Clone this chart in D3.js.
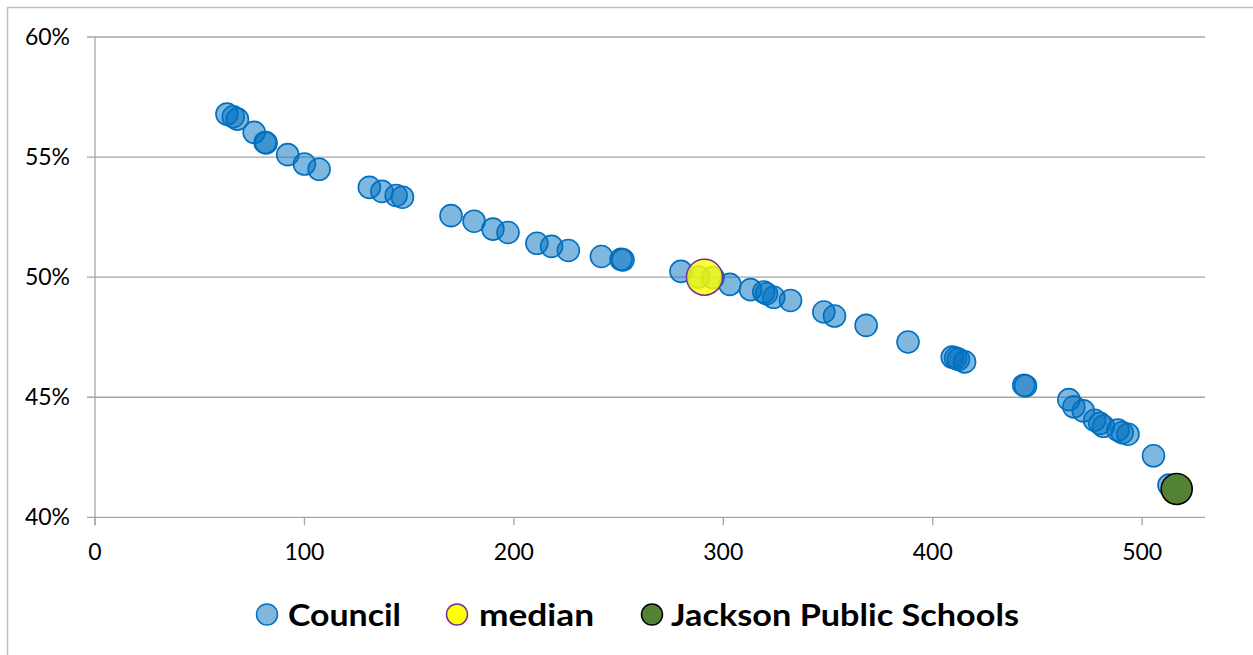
<!DOCTYPE html>
<html>
<head>
<meta charset="utf-8">
<script src="https://cdn.jsdelivr.net/npm/d3@7"></script>
<style>
  html, body { margin: 0; padding: 0; background: #fff; }
  svg { display: block; }
  text { font-family: Lato, "Liberation Sans", sans-serif; fill: #000; }
</style>
</head>
<body>
<svg id="chart" width="1253" height="655"></svg>
<script>
// Council points: x value and percentage
const councilX = [63, 66, 68, 76, 81.2, 81.7, 92, 100, 107,
  131, 137, 143.8, 146.8, 170, 181, 190, 197.2, 211, 218, 226,
  241.8, 251.2, 252.1, 279.8, 288.2, 295.1, 303.1, 313, 319.3, 320.6, 324.1, 332.1,
  348, 353.1, 368.2, 388.2, 409.3, 410.9, 412.3, 415.2, 443.5, 444.3,
  465, 467.4, 471.9, 477.3, 479.8, 481.5, 488.4, 490.5, 493.2, 505.4, 512.8, 516];
const councilY = [56.79, 56.68, 56.58, 56.03, 55.61, 55.59, 55.10, 54.71, 54.49,
  53.74, 53.57, 53.40, 53.33, 52.56, 52.33, 52.00, 51.86, 51.41, 51.28, 51.11,
  50.86, 50.74, 50.72, 50.24, 50.00, 49.98, 49.70, 49.48, 49.38, 49.31, 49.16, 49.03,
  48.55, 48.38, 47.99, 47.30, 46.67, 46.63, 46.58, 46.47, 45.50, 45.47,
  44.90, 44.60, 44.43, 44.04, 43.91, 43.79, 43.63, 43.52, 43.46, 42.56, 41.34, 41.20];
const medianX = [291];
const medianY = [50.0];
const jacksonX = [516.5];
const jacksonY = [41.18];

const xTicks = [0, 100, 200, 300, 400, 500];
const yTicks = [40, 45, 50, 55, 60];
const legendLabels = ["Council", "median", "Jackson Public Schools"];

const svg = d3.select("#chart");
const plot = { left: 95, right: 1205, top: 37, bottom: 517.3 };

const x = d3.scaleLinear().domain([0, 530]).range([plot.left, plot.right]);
const y = d3.scaleLinear().domain([40, 60]).range([plot.bottom, plot.top]);

// chart frame (left and top edges)
svg.append("path")
  .attr("d", "M7.5,655 V7.5 H1253")
  .attr("fill", "none").attr("stroke", "#bfbfbf").attr("stroke-width", 1.5);

// horizontal gridlines
svg.append("g").selectAll("line").data(yTicks).join("line")
  .attr("x1", plot.left - 8).attr("x2", plot.right)
  .attr("y1", d => y(d)).attr("y2", d => y(d))
  .attr("stroke", "#a6a6a6").attr("stroke-width", 1.3);

// y axis line
svg.append("line")
  .attr("x1", plot.left).attr("x2", plot.left)
  .attr("y1", plot.top).attr("y2", plot.bottom + 8)
  .attr("stroke", "#a6a6a6").attr("stroke-width", 1.3);

// x tick marks
svg.append("g").selectAll("line").data(xTicks).join("line")
  .attr("x1", d => x(d)).attr("x2", d => x(d))
  .attr("y1", plot.bottom).attr("y2", plot.bottom + 8)
  .attr("stroke", "#a6a6a6").attr("stroke-width", 1.3);

// y tick labels
svg.append("g").selectAll("text").data(yTicks).join("text")
  .attr("x", 70).attr("y", d => y(d))
  .attr("dy", "0.35em")
  .attr("text-anchor", "end")
  .style("font-size", "23px")
  .text(d => d + "%");

// x tick labels
svg.append("g").selectAll("text").data(xTicks).join("text")
  .attr("x", d => x(d)).attr("y", 560)
  .attr("text-anchor", "middle")
  .style("font-size", "23px")
  .text(d => d);

// council markers
svg.append("g").selectAll("circle").data(councilX.map((v, i) => [v, councilY[i]])).join("circle")
  .attr("cx", d => x(d[0])).attr("cy", d => y(d[1]))
  .attr("r", 11)
  .attr("fill", "rgba(0,112,192,0.5)")
  .attr("stroke", "#0070c0").attr("stroke-width", 1.6);

// median marker
svg.append("g").selectAll("circle").data(medianX.map((v, i) => [v, medianY[i]])).join("circle")
  .attr("cx", d => x(d[0])).attr("cy", d => y(d[1]))
  .attr("r", 18)
  .attr("fill", "rgba(255,255,0,0.82)")
  .attr("stroke", "#7030a0").attr("stroke-width", 1.5);

// Jackson Public Schools marker
svg.append("g").selectAll("circle").data(jacksonX.map((v, i) => [v, jacksonY[i]])).join("circle")
  .attr("cx", d => x(d[0])).attr("cy", d => y(d[1]))
  .attr("r", 15.5)
  .attr("fill", "#548235")
  .attr("stroke", "#000").attr("stroke-width", 1.6);

// legend
const legendItems = [
  { label: legendLabels[0], mx: 267, tx: 288, w: 113, fill: "rgba(0,112,192,0.5)", stroke: "#0070c0" },
  { label: legendLabels[1], mx: 457, tx: 479, w: 115, fill: "#ffff00", stroke: "#7030a0" },
  { label: legendLabels[2], mx: 652, tx: 671, w: 348, fill: "#548235", stroke: "#000" }
];
const lg = svg.append("g");
lg.selectAll("circle").data(legendItems).join("circle")
  .attr("cx", d => d.mx).attr("cy", 614.5).attr("r", 10.5)
  .attr("fill", d => d.fill).attr("stroke", d => d.stroke).attr("stroke-width", 1.5);
lg.selectAll("text").data(legendItems).join("text")
  .attr("x", d => d.tx).attr("y", 626)
  .attr("textLength", d => d.w).attr("lengthAdjust", "spacingAndGlyphs")
  .style("font-size", "31px").style("font-weight", "bold")
  .text(d => d.label);
</script>
</body>
</html>
